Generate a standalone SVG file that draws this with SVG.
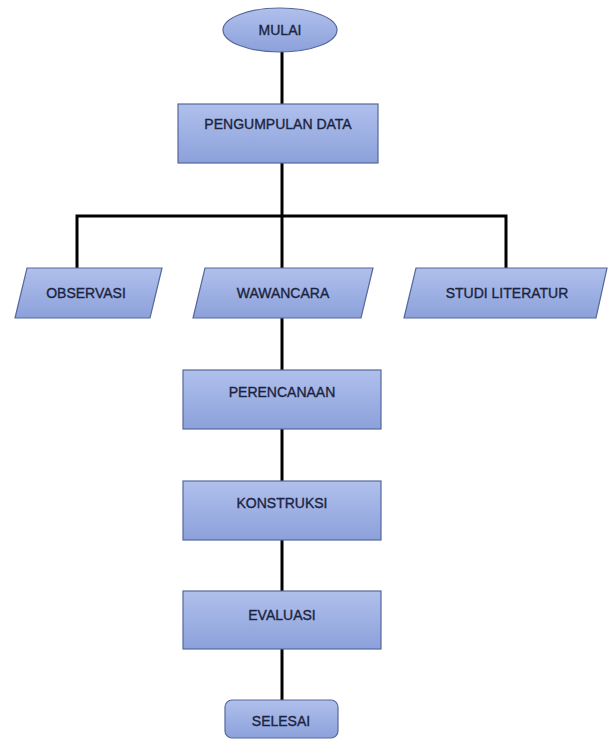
<svg xmlns="http://www.w3.org/2000/svg" width="609" height="741" viewBox="0 0 609 741">
<defs>
<linearGradient id="g" x1="0" y1="0" x2="0" y2="1">
<stop offset="0" stop-color="#b0c0ec"/>
<stop offset="1" stop-color="#8ca1db"/>
</linearGradient>
<style>
.s{fill:url(#g);stroke:#56689c;stroke-width:1.2}
.t{font-family:"Liberation Sans",Arial,sans-serif;font-size:14px;fill:#1b2440;stroke:#1b2440;stroke-width:0.35;text-anchor:middle;dominant-baseline:central}
.c{stroke:#000;stroke-width:3;fill:none}
</style>
</defs>
<rect width="609" height="741" fill="#fff"/>
<g id="connectors">
<line class="c" x1="282" y1="51" x2="282" y2="104"/>
<line class="c" x1="282" y1="163" x2="282" y2="268"/>
<polyline class="c" points="77,268 77,216 506,216 506,268"/>
<line class="c" x1="282" y1="318" x2="282" y2="370"/>
<line class="c" x1="282" y1="429" x2="282" y2="481"/>
<line class="c" x1="282" y1="540" x2="282" y2="591"/>
<line class="c" x1="282" y1="649" x2="282" y2="700"/>
</g>
<g id="mulai">
<ellipse class="s" cx="280" cy="30" rx="57" ry="22"/>
<text class="t" x="280" y="30">MULAI</text>
</g>
<g id="pengumpulan">
<rect class="s" x="178" y="104" width="200" height="59"/>
<text class="t" x="278" y="124">PENGUMPULAN DATA</text>
</g>
<g id="observasi">
<polygon class="s" points="27,268 162,268 150,318 15,318"/>
<text class="t" x="86" y="293">OBSERVASI</text>
</g>
<g id="wawancara">
<polygon class="s" points="205,268 373,268 361,318 193,318"/>
<text class="t" x="283" y="293">WAWANCARA</text>
</g>
<g id="studi">
<polygon class="s" points="416,268 607,268 596,318 404,318"/>
<text class="t" x="507" y="293">STUDI LITERATUR</text>
</g>
<g id="perencanaan">
<rect class="s" x="183" y="370" width="198" height="59"/>
<text class="t" x="282" y="392">PERENCANAAN</text>
</g>
<g id="konstruksi">
<rect class="s" x="183" y="481" width="198" height="59"/>
<text class="t" x="282" y="503">KONSTRUKSI</text>
</g>
<g id="evaluasi">
<rect class="s" x="183" y="591" width="198" height="58"/>
<text class="t" x="282" y="615">EVALUASI</text>
</g>
<g id="selesai">
<rect class="s" x="225" y="700" width="113" height="38" rx="7"/>
<text class="t" x="281" y="721">SELESAI</text>
</g>
</svg>
